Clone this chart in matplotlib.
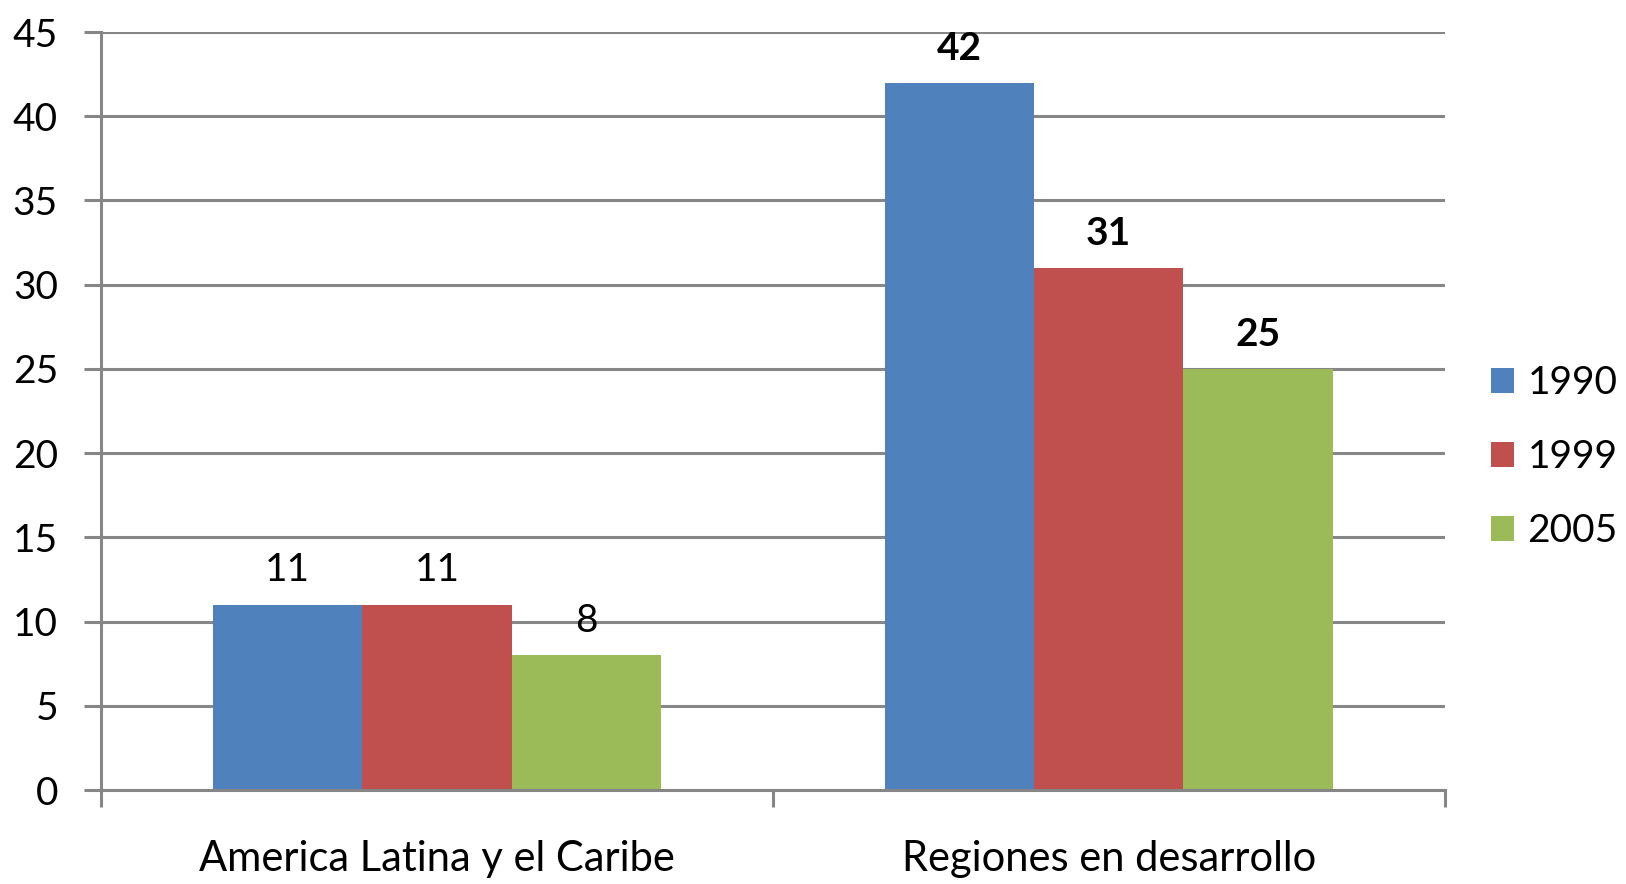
import numpy as np
import matplotlib.pyplot as plt
from matplotlib.patches import Patch

categorias = ['America Latina y el Caribe', 'Regiones en desarrollo']
anos = ['1990', '1999', '2005']
valores_1990 = [11, 42]
valores_1999 = [11, 31]
valores_2005 = [8, 25]
colores = ['#4F81BD', '#C0504D', '#9BBB59']

plt.rcParams['font.family'] = ['Lato', 'DejaVu Sans']

fig = plt.figure(figsize=(16.26, 8.84), dpi=100)
ax = fig.add_axes([0.0621, 0.1063, 0.8263, 0.8575])

x = np.arange(len(categorias))
ancho = 1 / 4.5
series = [valores_1990, valores_1999, valores_2005]
for i, (vals, col, ano) in enumerate(zip(series, colores, anos)):
    pos = x + (i - 1) * ancho
    barras = ax.bar(pos, vals, width=ancho, color=col, zorder=2, label=ano)
    for j, (b, v) in enumerate(zip(barras, vals)):
        ax.annotate(str(v), (b.get_x() + b.get_width() / 2, v),
                    xytext=(0, 12), textcoords='offset points',
                    ha='center', va='bottom', fontsize=28,
                    fontweight='bold' if j == 1 else 'normal', zorder=4)

ax.set_xlim(-0.5, 1.5)
ax.set_ylim(0, 45)
ax.set_yticks(np.arange(0, 46, 5))
ax.yaxis.grid(True, color='#868686', linewidth=2.2, zorder=0)
ax.set_axisbelow(True)

ax.set_xticks([-0.5, 0.5, 1.5])
ax.set_xticklabels(['', '', ''])
ax.set_xticks(x, minor=True)
ax.set_xticklabels(categorias, minor=True)
ax.tick_params(axis='x', which='major', length=12, width=2.2, color='#868686')
ax.tick_params(axis='x', which='minor', length=0, pad=36, labelsize=30)
ax.tick_params(axis='y', length=12, width=2.2, color='#868686', pad=19, labelsize=28)

for s in ['top', 'right']:
    ax.spines[s].set_visible(False)
ax.spines['left'].set_color('#868686')
ax.spines['left'].set_linewidth(2.2)
ax.spines['bottom'].set_color('#868686')
ax.spines['bottom'].set_linewidth(2.2)

handles = [Patch(facecolor=c, label=a) for c, a in zip(colores, anos)]
fig.legend(handles=handles, loc='center left', bbox_to_anchor=(0.9, 0.483),
           frameon=False, fontsize=28, handlelength=0.6, handleheight=0.6,
           handletextpad=0.35, labelspacing=0.98, borderpad=0.2)

fig.savefig('out.png', dpi=100)
